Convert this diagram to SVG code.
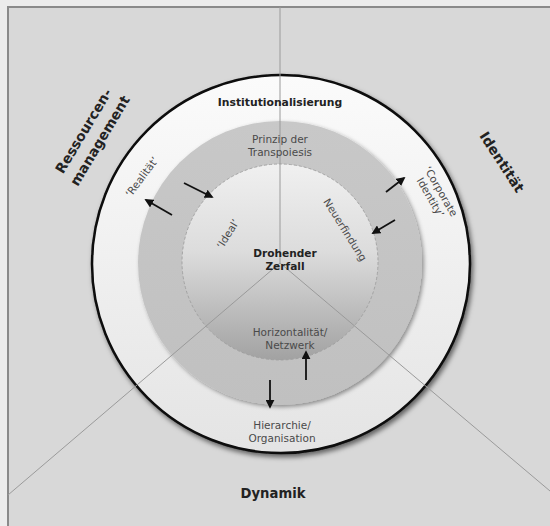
<svg xmlns="http://www.w3.org/2000/svg" width="550" height="526" viewBox="0 0 550 526">
<defs>
<style>
.lbl{font-family:"DejaVu Sans","Liberation Sans",sans-serif;fill:#222;font-weight:bold;text-anchor:middle}
.ring{font-family:"DejaVu Sans","Liberation Sans",sans-serif;fill:#4a4a4a;font-size:10.5px;text-anchor:middle}
.sector{stroke:#9a9a9a;stroke-width:1;fill:none}
.arr{stroke:#111;stroke-width:1.8;fill:none;marker-end:url(#ah)}
</style>
<marker id="ah" viewBox="0 0 10 10" refX="8" refY="5" markerWidth="5" markerHeight="5" orient="auto" markerUnits="strokeWidth">
<path d="M0,0 L10,5 L0,10 z" fill="#111"/>
</marker>
<filter id="shadow" x="-20%" y="-20%" width="140%" height="140%">
<feDropShadow dx="2" dy="3" stdDeviation="2.5" flood-color="#000" flood-opacity="0.55"/>
</filter>
<filter id="shadow2" x="-20%" y="-20%" width="140%" height="140%">
<feDropShadow dx="2" dy="2" stdDeviation="2" flood-color="#000" flood-opacity="0.4"/>
</filter>
<linearGradient id="gOuter" x1="0" y1="0" x2="0" y2="1">
<stop offset="0" stop-color="#fbfbfb"/>
<stop offset="1" stop-color="#e4e4e4"/>
</linearGradient>
<linearGradient id="gMid" x1="0" y1="0" x2="0" y2="1">
<stop offset="0" stop-color="#c8c8c8"/>
<stop offset="1" stop-color="#c0c0c0"/>
</linearGradient>
<linearGradient id="gInner" x1="0" y1="0" x2="0" y2="1">
<stop offset="0" stop-color="#f0f0f0"/>
<stop offset="0.45" stop-color="#dcdcdc"/>
<stop offset="1" stop-color="#a2a2a2"/>
</linearGradient>
</defs>

<rect x="0" y="0" width="550" height="526" fill="#ececec"/>
<rect x="8" y="7" width="560" height="540" fill="#d8d8d8" stroke="#8a8a8a" stroke-width="2"/>

<g id="outer-ring">
<circle cx="281" cy="264" r="189" fill="url(#gOuter)" stroke="#0a0a0a" stroke-width="2.5" filter="url(#shadow)"/>
</g>
<g id="middle-ring">
<circle cx="280" cy="263" r="142" fill="url(#gMid)" filter="url(#shadow2)"/>
</g>
<g id="inner-circle">
<circle cx="280" cy="262" r="98" fill="url(#gInner)" stroke="#9a9a9a" stroke-width="0.8" stroke-dasharray="3 2"/>
</g>

<g id="sector-lines">
<line class="sector" x1="280" y1="7" x2="280" y2="263"/>
<line class="sector" x1="280" y1="263" x2="8" y2="495"/>
<line class="sector" x1="280" y1="263" x2="550" y2="491"/>
</g>

<g id="connectors">
<line class="arr" x1="184" y1="183" x2="212" y2="197"/>
<line class="arr" x1="172" y1="215" x2="146" y2="200"/>
<line class="arr" x1="386" y1="192" x2="404" y2="178"/>
<line class="arr" x1="395" y1="220" x2="373" y2="233"/>
<line class="arr" x1="306" y1="380" x2="306" y2="352"/>
<line class="arr" x1="270" y1="380" x2="270" y2="407"/>
</g>

<g id="institutionalisierung">
<text class="lbl" x="280" y="106" font-size="10.8">Institutionalisierung</text>
</g>
<g id="transpoiesis">
<text class="ring" x="280" y="143">Prinzip der</text>
<text class="ring" x="280" y="156">Transpoiesis</text>
</g>
<g id="zerfall">
<text class="lbl" x="285" y="257" font-size="10.6">Drohender</text>
<text class="lbl" x="285" y="270" font-size="10.6">Zerfall</text>
</g>
<g id="horizontalitaet">
<text class="ring" x="290" y="336">Horizontalität/</text>
<text class="ring" x="290" y="349">Netzwerk</text>
</g>
<g id="hierarchie">
<text class="ring" x="282" y="429">Hierarchie/</text>
<text class="ring" x="282" y="442">Organisation</text>
</g>
<g id="dynamik">
<text class="lbl" x="273" y="498" font-size="13.2">Dynamik</text>
</g>
<g id="ressourcenmanagement">
<text class="lbl" font-size="13.8" transform="translate(92,136) rotate(-59)"><tspan x="0" y="-5">Ressourcen-</tspan><tspan x="0" y="14">management</tspan></text>
</g>
<g id="identitaet">
<text class="lbl" font-size="14" transform="translate(502,162) rotate(57)" y="5">Identität</text>
</g>
<g id="corporate-identity">
<text class="ring" font-size="10" transform="translate(435.5,194.5) rotate(60)"><tspan x="0" y="-2.5">‘Corporate</tspan><tspan x="0" y="9.5">Identity’</tspan></text>
</g>
<g id="realitaet">
<text class="ring" transform="translate(142,177) rotate(-53)" y="3.5">‘Realität’</text>
</g>
<g id="ideal">
<text class="ring" transform="translate(228,234) rotate(-58)" y="3.5">‘Ideal’</text>
</g>
<g id="neuerfindung">
<text class="ring" transform="translate(345,230) rotate(58)" y="3.5">Neuerfindung</text>
</g>
</svg>
